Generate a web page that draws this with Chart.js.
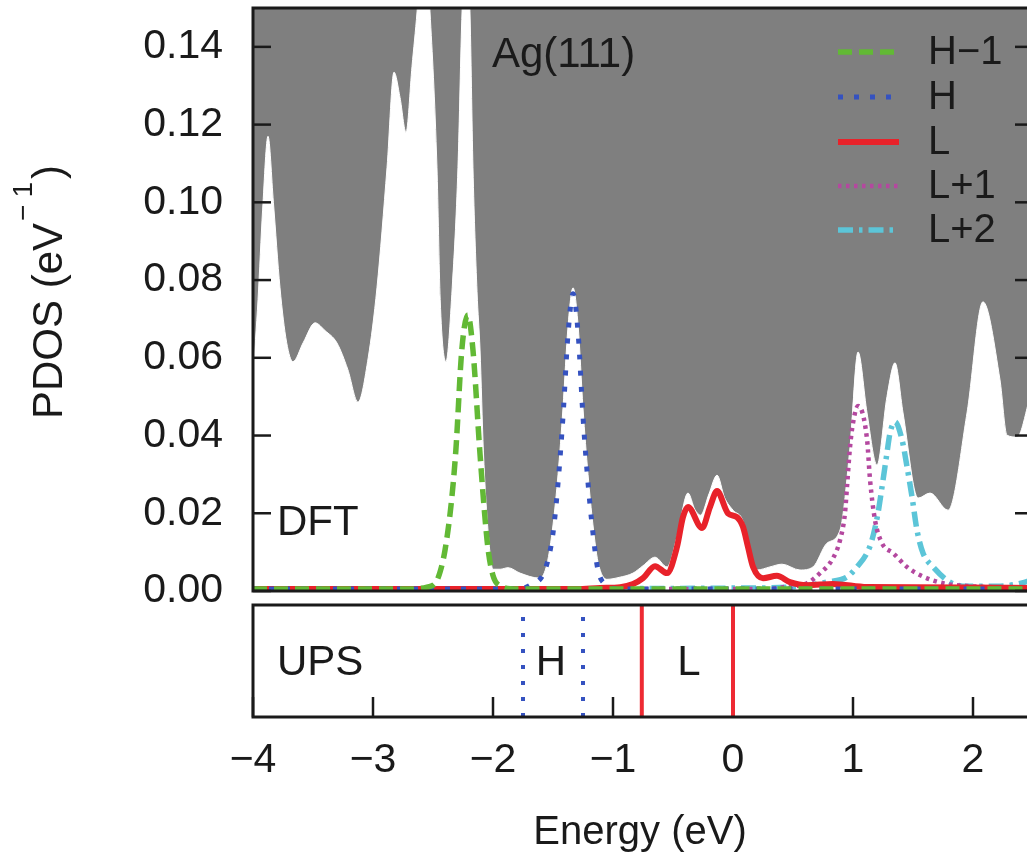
<!DOCTYPE html>
<html>
<head>
<meta charset="utf-8">
<title>PDOS on Ag(111)</title>
<script src="https://cdn.jsdelivr.net/npm/chart.js@4.4.1/dist/chart.umd.min.js"></script>
<style>
  html, body { margin: 0; padding: 0; background: #fff; overflow: hidden; }
  #wrap { position: relative; width: 1027px; height: 853px; overflow: hidden; }
  canvas { position: absolute; left: 0; }
  #dft { top: 0; z-index: 2; }
  #ups { top: 600px; z-index: 1; }
</style>
</head>
<body>
<div id="wrap">
  <canvas id="dft" width="1045" height="620"></canvas>
  <canvas id="ups" width="1045" height="253"></canvas>
</div>
<script>
const FONT = '"Liberation Sans", Arial, Helvetica, sans-serif';
const INK = '#1a1a1a';
const GREY = '#7f7f7f';

// axes
const energyTicks = [-4, -3, -2, -1, 0, 1, 2];
const pdosTicks = [0, 0.02, 0.04, 0.06, 0.08, 0.10, 0.12, 0.14];

// Ag(111) substrate DOS (white area)
const agE = [-4.00, -3.958, -3.92, -3.875, -3.83, -3.775, -3.72, -3.667, -3.58, -3.483, -3.40, -3.30, -3.21, -3.125,
  -3.04, -2.967, -2.883, -2.825, -2.775, -2.725, -2.675, -2.633, -2.58, -2.525, -2.467, -2.44, -2.392, -2.34,
  -2.292, -2.258, -2.225, -2.192, -2.167, -2.133, -2.108, -2.08, -2.04, -2.00, -1.94, -1.875, -1.775, -1.61,
  -1.55, -1.50, -1.458, -1.417, -1.375, -1.333, -1.29, -1.25, -1.208, -1.167, -1.125, -1.05, -0.95, -0.833,
  -0.75, -0.65, -0.55, -0.467, -0.375, -0.318, -0.27, -0.20, -0.133, -0.07, 0.0, 0.083, 0.14, 0.20, 0.308,
  0.408, 0.558, 0.667, 0.783, 0.892, 0.975, 1.042, 1.117, 1.20, 1.283, 1.35, 1.417, 1.542, 1.642, 1.792,
  1.95, 2.083, 2.225, 2.283, 2.367, 2.45, 2.50];
const agV = [0.055, 0.075, 0.098, 0.117, 0.100, 0.078, 0.064, 0.059, 0.064, 0.069, 0.067, 0.0638, 0.057, 0.0486,
  0.060, 0.078, 0.109, 0.1335, 0.127, 0.118, 0.135, 0.149, 0.172, 0.149, 0.109, 0.075, 0.059, 0.078,
  0.109, 0.149, 0.168, 0.149, 0.109, 0.077, 0.062, 0.036, 0.015, 0.0056, 0.0056, 0.0060, 0.0046, 0.0033,
  0.007, 0.017, 0.030, 0.047, 0.068, 0.078, 0.068, 0.047, 0.030, 0.017, 0.0075, 0.003, 0.0035, 0.0046,
  0.0065, 0.0087, 0.0062, 0.0139, 0.0252, 0.021, 0.0195, 0.025, 0.0298, 0.024, 0.0208, 0.018, 0.010, 0.0054, 0.0062,
  0.0069, 0.0054, 0.0062, 0.0123, 0.0157, 0.037, 0.0615, 0.0458, 0.0324, 0.050, 0.0587, 0.0458, 0.0239, 0.0252, 0.0208,
  0.0458, 0.0744, 0.0543, 0.0401, 0.0396, 0.047, 0.055];

// molecular orbital PDOS
const hm1E = [-4.0, -2.70, -2.55, -2.48, -2.44, -2.40, -2.35, -2.31, -2.26, -2.21, -2.167, -2.11, -2.07, -2.04, -2.00, -1.95, -1.80, 2.5];
const hm1V = [0.0005, 0.0005, 0.001, 0.002, 0.005, 0.0105, 0.022, 0.036, 0.062, 0.071, 0.062, 0.036, 0.020, 0.0105, 0.004, 0.0015, 0.0005, 0.0005];

const hE = [-4.0, -1.80, -1.69, -1.567, -1.50, -1.458, -1.417, -1.375, -1.333, -1.29, -1.25, -1.208, -1.167, -1.125, -1.05, -0.95, 2.5];
const hV = [0.0005, 0.0005, 0.0015, 0.0054, 0.0149, 0.0278, 0.0448, 0.066, 0.0765, 0.066, 0.0448, 0.0278, 0.0149, 0.0054, 0.0015, 0.0005, 0.0005];

const lE = [-4.0, -1.3, -1.108, -0.94, -0.833, -0.75, -0.65, -0.55, -0.467, -0.417, -0.375, -0.258, -0.192, -0.133, -0.042,
  0.033, 0.083, 0.125, 0.167, 0.25, 0.366, 0.475, 0.616, 0.833, 1.117, 2.5];
const lV = [0.0005, 0.0005, 0.0008, 0.001, 0.0018, 0.0033, 0.0064, 0.0046, 0.0113, 0.019, 0.0216, 0.0162, 0.0216, 0.0257, 0.020,
  0.019, 0.0165, 0.0113, 0.0062, 0.0033, 0.0039, 0.0023, 0.0015, 0.0018, 0.001, 0.0008];

const l1E = [-4.0, 0.30, 0.417, 0.617, 0.725, 0.825, 0.892, 0.933, 0.95, 0.975, 1.0, 1.042, 1.117, 1.142, 1.183, 1.242,
  1.333, 1.45, 1.558, 1.75, 2.0, 2.5];
const l1V = [0.0005, 0.0005, 0.001, 0.002, 0.0046, 0.008, 0.0131, 0.020, 0.0268, 0.037, 0.0432, 0.0476, 0.039, 0.0286, 0.0183, 0.0123,
  0.0098, 0.0062, 0.0041, 0.002, 0.0012, 0.0008];

const l2E = [-4.0, 0.30, 0.55, 0.783, 0.95, 1.033, 1.117, 1.158, 1.208, 1.242, 1.283, 1.308, 1.35, 1.408, 1.45, 1.492,
  1.533, 1.583, 1.667, 1.808, 1.95, 2.2, 2.4, 2.5];
const l2V = [0.0005, 0.0008, 0.0012, 0.0023, 0.0036, 0.0062, 0.0098, 0.0131, 0.020, 0.0268, 0.0355, 0.0406, 0.0435, 0.039, 0.032, 0.0242,
  0.0157, 0.0098, 0.0062, 0.0023, 0.0012, 0.0012, 0.002, 0.003];

// UPS onsets (eV)
const upsH = [-1.75, -1.25];
const upsL = [-0.76, 0.0];

const pts = (E, V) => E.map((x, i) => ({ x: x, y: V[i] }));
const minusSign = v => (v < 0 ? '\u2212' + Math.abs(v) : String(v));

function orbital(label, E, V, color, dash, width) {
  return {
    label: label,
    data: pts(E, V),
    borderColor: color,
    borderWidth: width,
    borderDash: dash,
    borderCapStyle: 'butt',
    fill: false,
    cubicInterpolationMode: 'monotone'
  };
}

function seg(ctx, x1, y1, x2, y2) {
  ctx.beginPath(); ctx.moveTo(x1, y1); ctx.lineTo(x2, y2); ctx.stroke();
}

const dftPanel = {
  id: 'dftPanel',
  beforeDatasetsDraw(chart) {
    const { ctx, chartArea: a } = chart;
    ctx.save();
    ctx.fillStyle = GREY;
    ctx.fillRect(a.left, a.top, a.right - a.left, a.bottom - a.top);
    ctx.restore();
  },
  afterDatasetsDraw(chart) {
    const { ctx, chartArea: a } = chart;
    const y = chart.scales.y;
    ctx.save();
    ctx.strokeStyle = INK;
    ctx.lineWidth = 2.5;
    pdosTicks.forEach(v => {
      const py = y.getPixelForValue(v);
      seg(ctx, a.left, py, a.left + 18, py);
      seg(ctx, a.right - 18, py, a.right, py);
    });
    ctx.lineWidth = 3;
    ctx.strokeRect(a.left, a.top, a.right - a.left, a.bottom - a.top);

    // legend (inside plot, top right)
    const rows = [52, 97, 142, 186, 230];
    ctx.font = '40px ' + FONT;
    ctx.textBaseline = 'middle';
    ctx.fillStyle = INK;
    chart.data.datasets.filter(d => d.label !== 'Ag').forEach((d, i) => {
      ctx.save();
      ctx.strokeStyle = d.borderColor;
      ctx.lineWidth = d.borderWidth;
      ctx.lineCap = 'butt';
      ctx.setLineDash(d.borderDash || []);
      seg(ctx, 838, rows[i], 899, rows[i]);
      ctx.restore();
      ctx.fillText(d.label, 928, rows[i] + 1);
    });

    ctx.textBaseline = 'alphabetic';
    ctx.font = '42px ' + FONT;
    ctx.fillText('Ag(111)', 492, 67);
    ctx.fillText('DFT', 277, 535);

    // y axis title, eV^-1 with a raised exponent
    const big = '42px ' + FONT, small = '28px ' + FONT;
    ctx.font = big;
    const w1 = ctx.measureText('PDOS (eV').width, w4 = ctx.measureText(')').width;
    ctx.font = small;
    const w2 = ctx.measureText('\u2212').width, w3 = ctx.measureText('1').width;
    const total = w1 + 2 + w2 + 7 + w3 + 3 + w4;
    ctx.translate(62, 292);
    ctx.rotate(-Math.PI / 2);
    let x0 = -total / 2;
    ctx.font = big;
    ctx.fillText('PDOS (eV', x0, 0);
    x0 += w1 + 2;
    ctx.font = small;
    ctx.fillText('\u2212', x0, -30);
    x0 += w2 + 7;
    ctx.fillText('1', x0, -30);
    x0 += w3 + 3;
    ctx.font = big;
    ctx.fillText(')', x0, 0);
    ctx.restore();
  }
};

// the UPS canvas sits 600px down the page, so its texts use local y
const upsPanel = {
  id: 'upsPanel',
  beforeDatasetsDraw(chart) {
    const { ctx, chartArea: a } = chart;
    const x = chart.scales.x;
    ctx.save();
    ctx.strokeStyle = INK;
    ctx.lineWidth = 2.5;
    energyTicks.forEach(v => {
      const px = x.getPixelForValue(v);
      seg(ctx, px, a.bottom, px, a.bottom - 20);
    });
    ctx.restore();
  },
  afterDatasetsDraw(chart) {
    const { ctx, chartArea: a } = chart;
    ctx.save();
    ctx.strokeStyle = INK;
    ctx.lineWidth = 3;
    ctx.strokeRect(a.left, a.top, a.right - a.left, a.bottom - a.top);
    ctx.fillStyle = INK;
    ctx.font = '42px ' + FONT;
    ctx.textBaseline = 'alphabetic';
    ctx.fillText('UPS', 277, 75);
    ctx.textAlign = 'center';
    ctx.fillText('H', 551, 75);
    ctx.fillText('L', 689, 75);
    ctx.font = '40px ' + FONT;
    ctx.fillText('Energy (eV)', 640, 244);
    ctx.restore();
  }
};

new Chart(document.getElementById('dft'), {
  type: 'line',
  data: {
    datasets: [
      orbital('H\u22121', hm1E, hm1V, '#62b935', [14, 7], 5.5),
      orbital('H', hE, hV, '#3552c0', [5, 11], 5),
      orbital('L', lE, lV, '#e8222a', [], 6),
      orbital('L+1', l1E, l1V, '#b4489f', [3.5, 4.5], 4.5),
      orbital('L+2', l2E, l2V, '#5cc5d8', [15, 6, 3.5, 6], 5.5),
      {
        label: 'Ag',
        data: pts(agE, agV),
        borderColor: '#ffffff',
        borderWidth: 1,
        backgroundColor: '#ffffff',
        fill: 'origin',
        cubicInterpolationMode: 'monotone'
      }
    ]
  },
  options: {
    responsive: false,
    animation: false,
    layout: { padding: { top: 8, right: 12, bottom: 29, left: 0 } },
    elements: { point: { radius: 0 } },
    plugins: { legend: { display: false }, tooltip: { enabled: false } },
    scales: {
      x: { type: 'linear', min: -4, max: 2.5, display: false },
      y: {
        min: 0,
        max: 0.15,
        afterFit(s) {
          s.width = 253;
          s.paddingTop = 0;
          s.paddingBottom = 0;
        },
        afterBuildTicks(s) { s.ticks = pdosTicks.map(v => ({ value: v })); },
        grid: { display: false, drawTicks: false },
        border: { display: false },
        ticks: {
          padding: 30,
          color: INK,
          font: { family: FONT, size: 41 },
          callback: v => v.toFixed(2)
        }
      }
    }
  },
  plugins: [dftPanel]
});

const vline = (e, color, dash) => ({
  data: [{ x: e, y: 0 }, { x: e, y: 1 }],
  borderColor: color,
  borderWidth: 4,
  borderDash: dash,
  borderCapStyle: 'butt',
  fill: false
});

new Chart(document.getElementById('ups'), {
  type: 'line',
  data: {
    datasets: [
      ...upsH.map(e => vline(e, '#3552c0', [4, 12])),
      ...upsL.map(e => vline(e, '#ee2a33', []))
    ]
  },
  options: {
    responsive: false,
    animation: false,
    layout: { padding: { top: 5, right: 12, bottom: 0, left: 253 } },
    elements: { point: { radius: 0 } },
    plugins: { legend: { display: false }, tooltip: { enabled: false } },
    scales: {
      y: { min: 0, max: 1, display: false },
      x: {
        type: 'linear',
        min: -4,
        max: 2.5,
        afterFit(s) { s.height = 136; },
        afterBuildTicks(s) { s.ticks = energyTicks.map(v => ({ value: v })); },
        grid: { display: false, drawTicks: false },
        border: { display: false },
        ticks: {
          padding: 19,
          maxRotation: 0,
          color: INK,
          font: { family: FONT, size: 41 },
          callback: v => minusSign(v)
        }
      }
    }
  },
  plugins: [upsPanel]
});
</script>
</body>
</html>
